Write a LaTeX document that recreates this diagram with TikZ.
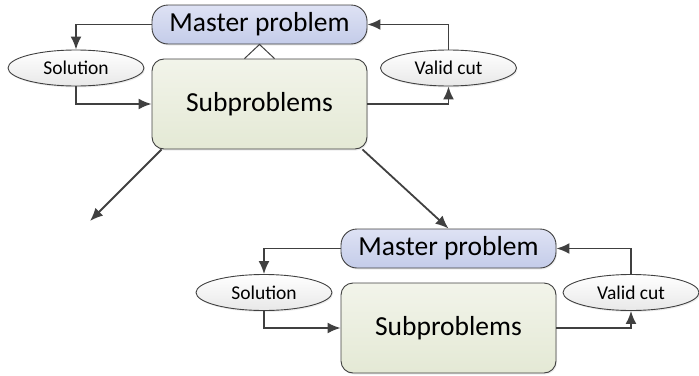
\documentclass[tikz,border=0pt]{standalone}
\usepackage{fontspec}
\setmainfont{Carlito}
\usepackage{tikz}
\usetikzlibrary{shapes.geometric,arrows.meta,shadows}
\definecolor{mastertop}{RGB}{222,226,244}
\definecolor{masterbot}{RGB}{196,204,233}
\definecolor{subtop}{RGB}{242,244,234}
\definecolor{subbot}{RGB}{228,233,213}
\definecolor{ovalbot}{RGB}{232,232,232}
\definecolor{edgegray}{RGB}{64,64,64}

\begin{document}
\begin{tikzpicture}[x=1pt,y=-1pt,
  master/.style={draw=edgegray, line width=0.9pt, rounded corners=16pt,
    top color=mastertop, bottom color=masterbot,
    minimum width=215pt, minimum height=39pt, inner sep=0pt,
    font=\fontsize{27.5}{30}\selectfont,
    drop shadow={opacity=0.15, shadow xshift=1pt, shadow yshift=-1.5pt}},
  subprob/.style={draw=edgegray, line width=0.9pt, rounded corners=12pt,
    top color=subtop, bottom color=subbot,
    minimum width=215pt, minimum height=90pt, inner sep=0pt,
    font=\fontsize{27.5}{30}\selectfont,
    drop shadow={opacity=0.15, shadow xshift=1pt, shadow yshift=-1.5pt}},
  oval/.style={ellipse, draw=edgegray, line width=0.9pt,
    top color=white, bottom color=ovalbot,
    minimum width=136pt, minimum height=36pt, inner sep=0pt,
    font=\fontsize{19.5}{22}\selectfont,
    drop shadow={opacity=0.15, shadow xshift=1pt, shadow yshift=-1.5pt}},
  arr/.style={draw=edgegray, line width=1.8pt, -{Latex[length=13pt,width=11pt]}}]
  \useasboundingbox (0,0) rectangle (699,375);

  \node[master] (m1) at (259.5,24.5) {Master problem};
  \node[subprob] (p1) at (259.5,104) {Subproblems};
  \node[oval] (s1) at (76,68) {Solution};
  \node[oval] (v1) at (448.5,68) {Valid cut};

  \node[master] (m2) at (448.5,248.5) {Master problem};
  \node[subprob] (p2) at (448.5,328) {Subproblems};
  \node[oval] (s2) at (264,292.5) {Solution};
  \node[oval] (v2) at (631,292.5) {Valid cut};

  \coordinate (left) at (90,221);

  \draw[draw=edgegray, line width=1pt] ([xshift=-15pt]p1.north) -- (m1.south) -- ([xshift=15pt]p1.north);

  \draw[arr] (m1.west) -| (s1.north);
  \draw[arr] (s1.south) |- (p1.west);
  \draw[arr] (p1.east) -| (v1.south);
  \draw[arr] (v1.north) |- (m1.east);

  \draw[arr] ([xshift=10pt]p1.south west) -- (left);
  \draw[arr] ([xshift=-5pt]p1.south east) -- (m2.north);

  \draw[arr] (m2.west) -| (s2.north);
  \draw[arr] (s2.south) |- (p2.west);
  \draw[arr] (p2.east) -| (v2.south);
  \draw[arr] (v2.north) |- (m2.east);
\end{tikzpicture}
\end{document}
